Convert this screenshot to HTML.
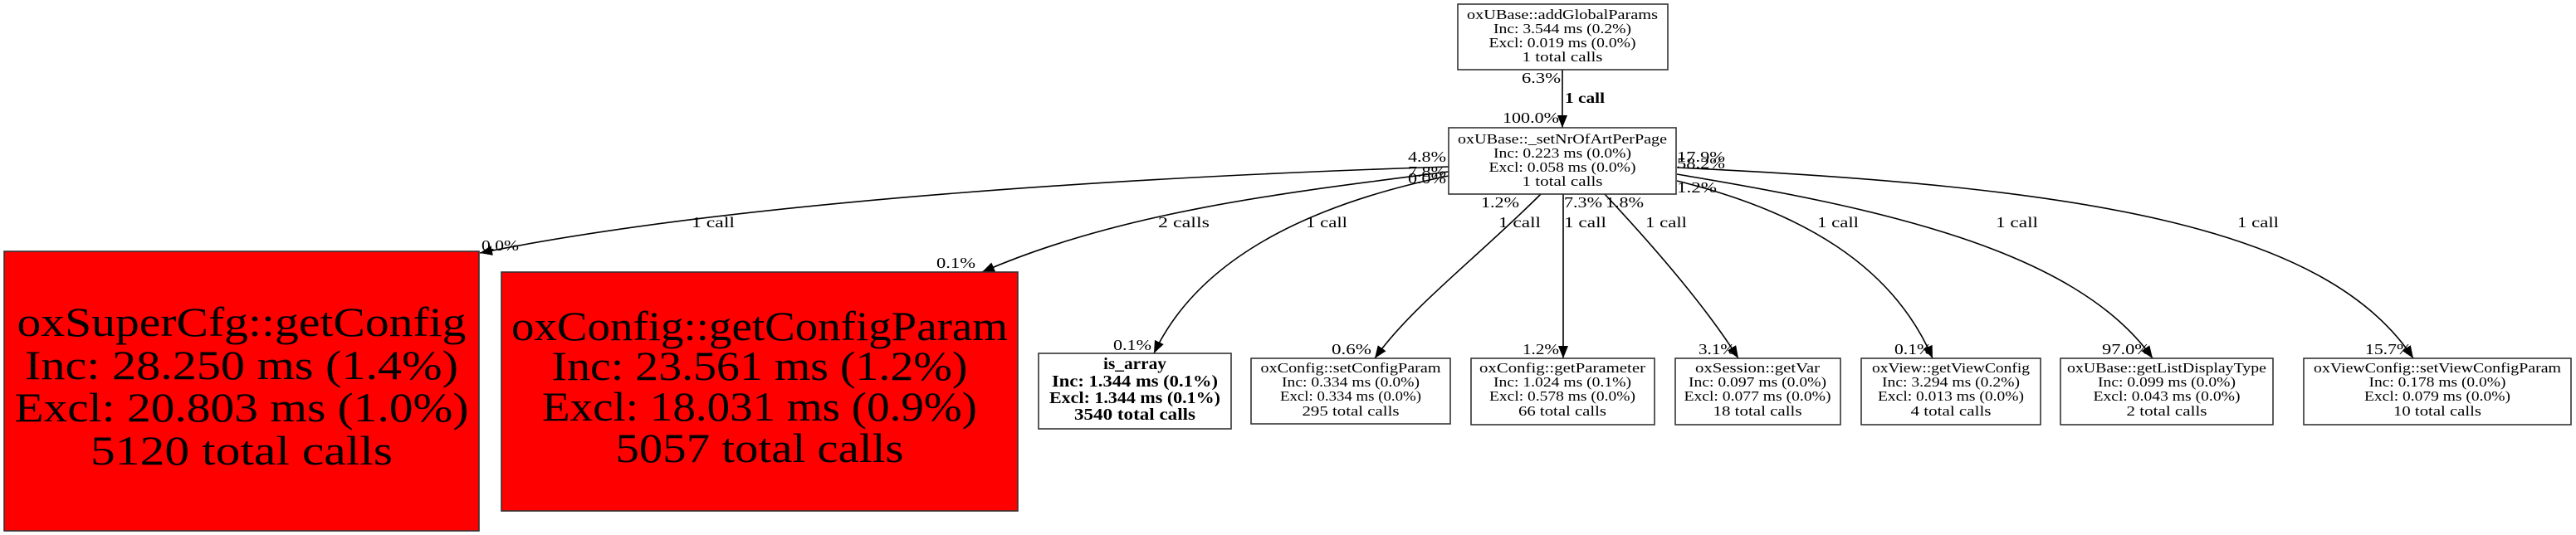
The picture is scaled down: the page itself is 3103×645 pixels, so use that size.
<!DOCTYPE html>
<html><head><meta charset="utf-8"><style>
html,body{margin:0;padding:0;background:#fff;}
svg{display:block;}
text{font-family:"Liberation Serif","DejaVu Serif",serif;fill:#000;}
</style></head><body>
<svg width="3103" height="645" viewBox="0 0 3103 645" xmlns="http://www.w3.org/2000/svg">
<defs>
<marker id="ah" markerUnits="userSpaceOnUse" markerWidth="16" markerHeight="12" refX="15" refY="6" orient="auto">
<path d="M0,0 L15,6 L0,12 Z" fill="#000"/>
</marker>
</defs>
<g fill="none" stroke="#000" stroke-width="1.6" marker-end="url(#ah)">
<path d="M1882,84 L1882,154"/>
<path d="M1745,201 C1400,212 900,240 578,305"/>
<path d="M1745,207 C1550,232 1350,255 1183,328"/>
<path d="M1745,212 C1560,250 1440,320 1390,426"/>
<path d="M1856,234 C1780,310 1700,370 1656,432"/>
<path d="M1883,234 L1883,432"/>
<path d="M1933,234 C1990,295 2055,370 2094,432"/>
<path d="M2020,218 C2170,255 2280,320 2328,432"/>
<path d="M2020,210 C2260,250 2500,300 2593,432"/>
<path d="M2020,202 C2500,225 2800,270 2907,432"/>
</g>
<g stroke="#333" stroke-width="1.6">
<rect x="1756" y="5" width="253" height="79" fill="#fff"/>
<rect x="1745" y="154" width="274" height="80" fill="#fff"/>
<rect x="5" y="303" width="572" height="337" fill="#ff0000"/>
<rect x="604" y="328" width="622" height="288" fill="#ff0000"/>
<rect x="1251" y="426" width="232" height="91" fill="#fff"/>
<rect x="1507" y="432" width="240" height="79" fill="#fff"/>
<rect x="1772" y="432" width="221" height="80" fill="#fff"/>
<rect x="2018" y="432" width="199" height="80" fill="#fff"/>
<rect x="2242" y="432" width="216" height="80" fill="#fff"/>
<rect x="2482" y="432" width="256" height="80" fill="#fff"/>
<rect x="2775" y="432" width="322" height="80" fill="#fff"/>
</g>
<g font-size="17" text-anchor="middle" lengthAdjust="spacingAndGlyphs">
<text x="1882" y="23" textLength="230" lengthAdjust="spacingAndGlyphs">oxUBase::addGlobalParams</text>
<text x="1882" y="40" textLength="166" lengthAdjust="spacingAndGlyphs">Inc: 3.544 ms (0.2%)</text>
<text x="1882" y="57" textLength="177" lengthAdjust="spacingAndGlyphs">Excl: 0.019 ms (0.0%)</text>
<text x="1882" y="74" textLength="97" lengthAdjust="spacingAndGlyphs">1 total calls</text>

<text x="1882" y="173" textLength="252" lengthAdjust="spacingAndGlyphs">oxUBase::_setNrOfArtPerPage</text>
<text x="1882" y="190" textLength="166" lengthAdjust="spacingAndGlyphs">Inc: 0.223 ms (0.0%)</text>
<text x="1882" y="207" textLength="177" lengthAdjust="spacingAndGlyphs">Excl: 0.058 ms (0.0%)</text>
<text x="1882" y="224" textLength="97" lengthAdjust="spacingAndGlyphs">1 total calls</text>

<text x="1627" y="449" textLength="217" lengthAdjust="spacingAndGlyphs">oxConfig::setConfigParam</text>
<text x="1627" y="466" textLength="166" lengthAdjust="spacingAndGlyphs">Inc: 0.334 ms (0.0%)</text>
<text x="1627" y="483" textLength="170" lengthAdjust="spacingAndGlyphs">Excl: 0.334 ms (0.0%)</text>
<text x="1627" y="501" textLength="117" lengthAdjust="spacingAndGlyphs">295 total calls</text>

<text x="1882" y="449" textLength="200" lengthAdjust="spacingAndGlyphs">oxConfig::getParameter</text>
<text x="1882" y="466" textLength="166" lengthAdjust="spacingAndGlyphs">Inc: 1.024 ms (0.1%)</text>
<text x="1882" y="483" textLength="176" lengthAdjust="spacingAndGlyphs">Excl: 0.578 ms (0.0%)</text>
<text x="1882" y="501" textLength="106" lengthAdjust="spacingAndGlyphs">66 total calls</text>

<text x="2117" y="449" textLength="150" lengthAdjust="spacingAndGlyphs">oxSession::getVar</text>
<text x="2117" y="466" textLength="166" lengthAdjust="spacingAndGlyphs">Inc: 0.097 ms (0.0%)</text>
<text x="2117" y="483" textLength="177" lengthAdjust="spacingAndGlyphs">Excl: 0.077 ms (0.0%)</text>
<text x="2117" y="501" textLength="107" lengthAdjust="spacingAndGlyphs">18 total calls</text>

<text x="2350" y="449" textLength="190" lengthAdjust="spacingAndGlyphs">oxView::getViewConfig</text>
<text x="2350" y="466" textLength="166" lengthAdjust="spacingAndGlyphs">Inc: 3.294 ms (0.2%)</text>
<text x="2350" y="483" textLength="176" lengthAdjust="spacingAndGlyphs">Excl: 0.013 ms (0.0%)</text>
<text x="2350" y="501" textLength="97" lengthAdjust="spacingAndGlyphs">4 total calls</text>

<text x="2610" y="449" textLength="240" lengthAdjust="spacingAndGlyphs">oxUBase::getListDisplayType</text>
<text x="2610" y="466" textLength="166" lengthAdjust="spacingAndGlyphs">Inc: 0.099 ms (0.0%)</text>
<text x="2610" y="483" textLength="177" lengthAdjust="spacingAndGlyphs">Excl: 0.043 ms (0.0%)</text>
<text x="2610" y="501" textLength="97" lengthAdjust="spacingAndGlyphs">2 total calls</text>

<text x="2936" y="449" textLength="298" lengthAdjust="spacingAndGlyphs">oxViewConfig::setViewConfigParam</text>
<text x="2936" y="466" textLength="165" lengthAdjust="spacingAndGlyphs">Inc: 0.178 ms (0.0%)</text>
<text x="2936" y="483" textLength="176" lengthAdjust="spacingAndGlyphs">Excl: 0.079 ms (0.0%)</text>
<text x="2936" y="501" textLength="106" lengthAdjust="spacingAndGlyphs">10 total calls</text>
</g>
<g font-size="20" font-weight="bold" text-anchor="middle">
<text x="1367" y="445" textLength="76" lengthAdjust="spacingAndGlyphs">is_array</text>
<text x="1367" y="466" textLength="200" lengthAdjust="spacingAndGlyphs">Inc: 1.344 ms (0.1%)</text>
<text x="1367" y="486" textLength="206" lengthAdjust="spacingAndGlyphs">Excl: 1.344 ms (0.1%)</text>
<text x="1367" y="506" textLength="146" lengthAdjust="spacingAndGlyphs">3540 total calls</text>
</g>
<g font-size="50" text-anchor="middle">
<text x="291" y="405" textLength="541" lengthAdjust="spacingAndGlyphs">oxSuperCfg::getConfig</text>
<text x="291" y="457" textLength="522" lengthAdjust="spacingAndGlyphs">Inc: 28.250 ms (1.4%)</text>
<text x="291" y="508" textLength="547" lengthAdjust="spacingAndGlyphs">Excl: 20.803 ms (1.0%)</text>
<text x="291" y="560" textLength="364" lengthAdjust="spacingAndGlyphs">5120 total calls</text>
<text x="915" y="410" textLength="598" lengthAdjust="spacingAndGlyphs">oxConfig::getConfigParam</text>
<text x="915" y="458" textLength="501" lengthAdjust="spacingAndGlyphs">Inc: 23.561 ms (1.2%)</text>
<text x="915" y="507" textLength="524" lengthAdjust="spacingAndGlyphs">Excl: 18.031 ms (0.9%)</text>
<text x="915" y="557" textLength="347" lengthAdjust="spacingAndGlyphs">5057 total calls</text>
</g>
<g font-size="18">
<text x="1833" y="100" textLength="47" lengthAdjust="spacingAndGlyphs">6.3%</text>
<text x="1885" y="124" textLength="48" lengthAdjust="spacingAndGlyphs" font-weight="bold">1 call</text>
<text x="1810" y="148" textLength="68" lengthAdjust="spacingAndGlyphs">100.0%</text>
<text x="1696" y="195" textLength="46" lengthAdjust="spacingAndGlyphs">4.8%</text>
<text x="1696" y="213" textLength="46" lengthAdjust="spacingAndGlyphs">7.8%</text>
<text x="1696" y="221" textLength="46" lengthAdjust="spacingAndGlyphs">0.0%</text>
<text x="1784" y="250" textLength="46" lengthAdjust="spacingAndGlyphs">1.2%</text>
<text x="1884" y="250" textLength="46" lengthAdjust="spacingAndGlyphs">7.3%</text>
<text x="1934" y="250" textLength="46" lengthAdjust="spacingAndGlyphs">1.8%</text>
<text x="2020" y="195" textLength="58" lengthAdjust="spacingAndGlyphs">17.9%</text>
<text x="2020" y="203" textLength="58" lengthAdjust="spacingAndGlyphs">58.2%</text>
<text x="2020" y="232" textLength="48" lengthAdjust="spacingAndGlyphs">1.2%</text>

<text x="833" y="274" textLength="52" lengthAdjust="spacingAndGlyphs">1 call</text>
<text x="1395" y="274" textLength="62" lengthAdjust="spacingAndGlyphs">2 calls</text>
<text x="1573" y="274" textLength="50" lengthAdjust="spacingAndGlyphs">1 call</text>
<text x="1805" y="274" textLength="51" lengthAdjust="spacingAndGlyphs">1 call</text>
<text x="1884" y="274" textLength="51" lengthAdjust="spacingAndGlyphs">1 call</text>
<text x="1982" y="274" textLength="50" lengthAdjust="spacingAndGlyphs">1 call</text>
<text x="2189" y="274" textLength="50" lengthAdjust="spacingAndGlyphs">1 call</text>
<text x="2404" y="274" textLength="51" lengthAdjust="spacingAndGlyphs">1 call</text>
<text x="2695" y="274" textLength="50" lengthAdjust="spacingAndGlyphs">1 call</text>

<text x="580" y="302" textLength="45" lengthAdjust="spacingAndGlyphs">0.0%</text>
<text x="1128" y="323" textLength="47" lengthAdjust="spacingAndGlyphs">0.1%</text>
<text x="1341" y="422" textLength="46" lengthAdjust="spacingAndGlyphs">0.1%</text>
<text x="1604" y="427" textLength="48" lengthAdjust="spacingAndGlyphs">0.6%</text>
<text x="1834" y="427" textLength="44" lengthAdjust="spacingAndGlyphs">1.2%</text>
<text x="2046" y="427" textLength="44" lengthAdjust="spacingAndGlyphs">3.1%</text>
<text x="2282" y="427" textLength="45" lengthAdjust="spacingAndGlyphs">0.1%</text>
<text x="2532" y="427" textLength="58" lengthAdjust="spacingAndGlyphs">97.0%</text>
<text x="2849" y="427" textLength="56" lengthAdjust="spacingAndGlyphs">15.7%</text>
</g>
</svg>
</body></html>
